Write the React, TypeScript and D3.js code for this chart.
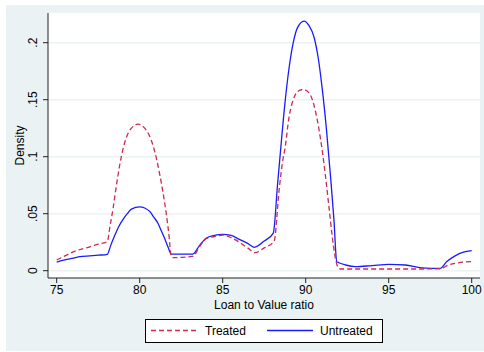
import React from "react";
import * as d3 from "d3";

const treatedX = [75, 75.5, 76, 76.5, 77, 77.5, 78.05, 78.2, 78.4, 78.6, 78.8, 79.0, 79.2, 79.5, 79.9, 80.3, 80.6, 80.8, 81.0, 81.2, 81.4, 81.6, 81.75, 81.9, 82.0, 83.2, 83.6, 84, 84.5, 85, 85.5, 86, 86.5, 86.95, 87.5, 88.1, 88.4, 88.6, 88.75, 89.0, 89.25, 89.5, 89.86, 90.2, 90.4, 90.6, 90.8, 91.0, 91.2, 91.4, 91.6, 91.8, 91.95, 92.1, 93, 94, 95, 96, 97, 98.1, 98.6, 99, 99.5, 100];
const treatedY = [0.0094, 0.013, 0.0165, 0.019, 0.021, 0.0233, 0.0255, 0.038, 0.055, 0.075, 0.093, 0.107, 0.117, 0.125, 0.1285, 0.125, 0.118, 0.110, 0.099, 0.085, 0.069, 0.050, 0.033, 0.0125, 0.0115, 0.0125, 0.021, 0.028, 0.030, 0.0312, 0.029, 0.025, 0.020, 0.0158, 0.020, 0.026, 0.071, 0.095, 0.107, 0.135, 0.150, 0.157, 0.159, 0.156, 0.150, 0.139, 0.124, 0.105, 0.082, 0.056, 0.030, 0.010, 0.003, 0.0015, 0.0015, 0.0015, 0.0015, 0.0015, 0.0015, 0.0017, 0.005, 0.0065, 0.0075, 0.0079];

const untreatedX = [75, 75.5, 76, 76.4, 77, 77.5, 78.05, 78.25, 78.5, 78.75, 79.0, 79.25, 79.5, 80.0, 80.3, 80.6, 80.85, 81.1, 81.3, 81.5, 81.7, 81.9, 82.0, 83.2, 83.6, 84, 84.5, 85, 85.5, 86, 86.5, 86.9, 87.5, 88.05, 88.3, 88.5, 88.75, 89.0, 89.25, 89.5, 89.9, 90.2, 90.5, 90.75, 91.0, 91.25, 91.5, 91.7, 91.87, 92.0, 92.4, 93, 94, 95, 96, 97, 98.1, 98.5, 99, 99.5, 100];
const untreatedY = [0.0076, 0.0095, 0.011, 0.0123, 0.013, 0.0136, 0.0144, 0.022, 0.031, 0.039, 0.045, 0.050, 0.054, 0.056, 0.055, 0.052, 0.047, 0.0416, 0.035, 0.0284, 0.021, 0.0146, 0.0146, 0.0146, 0.022, 0.0285, 0.031, 0.0318, 0.031, 0.0275, 0.024, 0.0205, 0.026, 0.033, 0.075, 0.108, 0.147, 0.178, 0.200, 0.213, 0.219, 0.215, 0.205, 0.187, 0.159, 0.124, 0.082, 0.045, 0.008, 0.007, 0.005, 0.0035, 0.0045, 0.0056, 0.005, 0.0025, 0.002, 0.008, 0.013, 0.0162, 0.0176];

const xTicks = [75, 80, 85, 90, 95, 100];
const yTicks = [0, 0.05, 0.1, 0.15, 0.2];
const yTickLabels = ["0", ".05", ".1", ".15", ".2"];

const seriesNames = ["Treated", "Untreated"];
const seriesColors = ["#cc2a4e", "#1a1aff"];

export default function App() {
  const W = 484, H = 352;
  const plotL = 48, plotR = 480, plotT = 13, plotB = 278;
  const x = d3.scaleLinear().domain([75, 100]).range([56.7, 471.7]);
  const y = d3.scaleLinear().domain([0, 0.2]).range([270.7, 42.7]);
  const line = d3.line<[number, number]>().x(d => x(d[0])).y(d => y(d[1])).curve(d3.curveMonotoneX);
  const tPts = treatedX.map((v, i) => [v, treatedY[i]] as [number, number]);
  const uPts = untreatedX.map((v, i) => [v, untreatedY[i]] as [number, number]);
  const font = "'Liberation Sans', Arial, Helvetica, sans-serif";
  return (
    <svg width={W} height={H} style={{ position: "absolute", left: 0, top: 0 }} fontFamily={font}>
      <rect x={0} y={0} width={W} height={H} fill="#ffffff" />
      <rect x={6} y={5} width={478} height={346} fill="#eaf2f3" />
      <rect x={plotL} y={plotT} width={plotR - plotL} height={plotB - plotT} fill="#ffffff" />
      {yTicks.map((t, i) => (
        <line key={"g" + i} x1={plotL} x2={plotR} y1={y(t)} y2={y(t)} stroke="#eaf2f3" strokeWidth={1.5} />
      ))}
      <path d={line(uPts) || ""} fill="none" stroke={seriesColors[1]} strokeWidth={1.3} />
      <path d={line(tPts) || ""} fill="none" stroke={seriesColors[0]} strokeWidth={1.3} strokeDasharray="5,3" />
      <line x1={plotL} x2={plotL} y1={plotT} y2={plotB} stroke="#222" strokeWidth={1} />
      <line x1={plotL} x2={plotR} y1={plotB} y2={plotB} stroke="#222" strokeWidth={1} />
      {yTicks.map((t, i) => (
        <g key={"y" + i}>
          <line x1={plotL - 5} x2={plotL} y1={y(t)} y2={y(t)} stroke="#222" strokeWidth={1} />
          <text transform={`translate(37,${y(t)}) rotate(-90)`} textAnchor="middle" fontSize={12} fill="#000">
            {yTickLabels[i]}
          </text>
        </g>
      ))}
      {xTicks.map((t, i) => (
        <g key={"x" + i}>
          <line x1={x(t)} x2={x(t)} y1={plotB} y2={plotB + 5} stroke="#222" strokeWidth={1} />
          <text x={x(t)} y={294} textAnchor="middle" fontSize={12} fill="#000">{t}</text>
        </g>
      ))}
      <text x={(plotL + plotR) / 2 + 0} y={309} textAnchor="middle" fontSize={12} fill="#000">Loan to Value ratio</text>
      <text transform={`translate(24,${(plotT + plotB) / 2}) rotate(-90)`} textAnchor="middle" fontSize={12} fill="#000">Density</text>
      <rect x={145.5} y={319.5} width={237} height={23} fill="#ffffff" stroke="#000" strokeWidth={1} />
      <line x1={151} x2={197} y1={330.5} y2={330.5} stroke={seriesColors[0]} strokeWidth={1.3} strokeDasharray="5,3" />
      <text x={205} y={334.5} fontSize={12} fill="#000">{seriesNames[0]}</text>
      <line x1={267} x2={313} y1={330.5} y2={330.5} stroke={seriesColors[1]} strokeWidth={1.3} />
      <text x={320} y={334.5} fontSize={12} fill="#000">{seriesNames[1]}</text>
    </svg>
  );
}
